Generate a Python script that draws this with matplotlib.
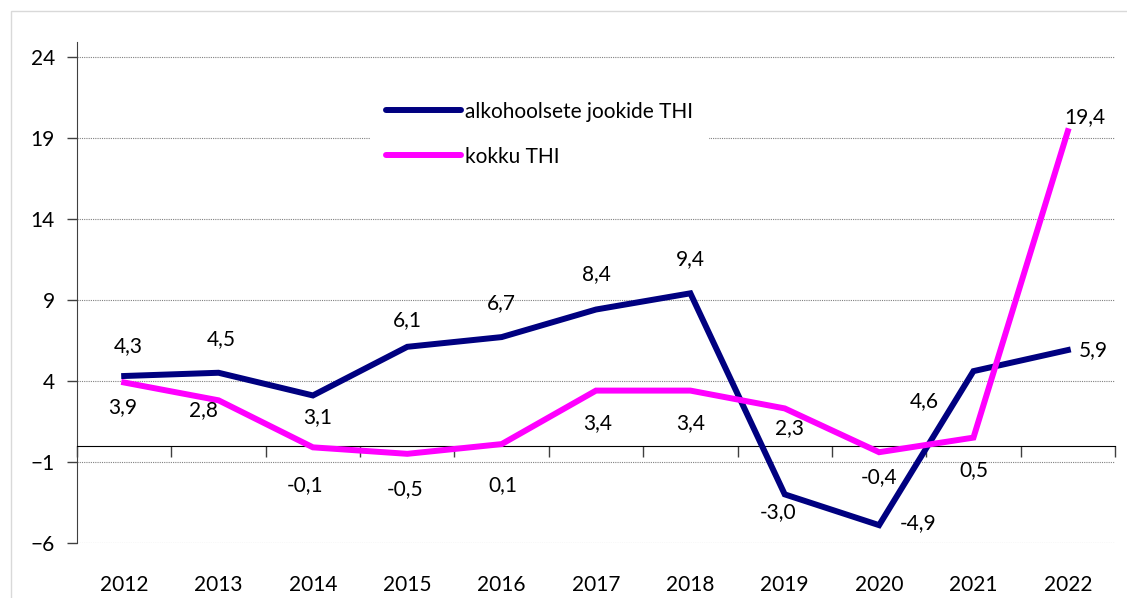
import matplotlib.pyplot as plt
from matplotlib.patches import Rectangle

# andmed
aastad = ['2012', '2013', '2014', '2015', '2016', '2017', '2018', '2019', '2020', '2021', '2022']
alko_thi = [4.3, 4.5, 3.1, 6.1, 6.7, 8.4, 9.4, -3.0, -4.9, 4.6, 5.9]
kokku_thi = [3.9, 2.8, -0.1, -0.5, 0.1, 3.4, 3.4, 2.3, -0.4, 0.5, 19.4]
y_ticks = [-6, -1, 4, 9, 14, 19, 24]

# siltide nihked pikslites
alko_nihked = [(4, 30), (3, 34), (5, -22), (0, 27), (0, 34), (0, 35), (0, 34),
               (-7, -18), (39, 2), (-49, -30), (25, 0)]
kokku_nihked = [(-2, -25), (-15, -10), (-8, -38), (-2, -35), (1, -41), (2, -33), (0, -33),
                (5, -20), (0, -25), (0, -32), (17, 14)]

plt.rcParams['font.family'] = ['Lato', 'DejaVu Sans']
fs = 15

fig = plt.figure(figsize=(11.27, 5.98), dpi=100)
ax = fig.add_axes([77 / 1127, 1 - 543 / 598, 1038 / 1127, (543 - 42) / 598])

# hall raam ümber
fig.patches.append(Rectangle((11 / 1127, -0.1), 1.2, 1 - 11 / 598 + 0.1, transform=fig.transFigure,
                             fill=False, edgecolor='#d9d9d9', linewidth=1))

x = list(range(len(aastad)))
ax.plot(x, alko_thi, color='#000080', linewidth=4.3, label='alkohoolsete jookide THI',
        solid_joinstyle='miter', zorder=3)
ax.plot(x, kokku_thi, color='#ff00ff', linewidth=4.3, label='kokku THI',
        solid_joinstyle='miter', zorder=3)

for i, v in enumerate(alko_thi):
    ax.annotate(f'{v:.1f}'.replace('.', ','), (x[i], v), xytext=alko_nihked[i],
                textcoords='offset pixels', ha='center', va='center', fontsize=fs)
for i, v in enumerate(kokku_thi):
    ax.annotate(f'{v:.1f}'.replace('.', ','), (x[i], v), xytext=kokku_nihked[i],
                textcoords='offset pixels', ha='center', va='center', fontsize=fs)

ax.set_xlim(-0.5, len(aastad) - 0.5)
ax.set_ylim(-6, 24.9)
ax.set_yticks(y_ticks)
ax.tick_params(axis='y', length=7, width=1, color='#404040', labelsize=fs, pad=9)
ax.grid(axis='y', linestyle=(0, (1, 1)), color='#808080', linewidth=0.8)
ax.set_axisbelow(True)

for s in ['top', 'right']:
    ax.spines[s].set_visible(False)
ax.spines['left'].set_color('#404040')
ax.spines['bottom'].set_position(('data', 0))
ax.spines['bottom'].set_color('#000000')
ax.spines['bottom'].set_bounds(-0.5, len(aastad) - 0.5)
ax.set_xticks([i - 0.5 for i in range(len(aastad) + 1)])
ax.set_xticklabels([])
ax.tick_params(axis='x', length=8, width=1, color='#404040')

sec = ax.secondary_xaxis(0)
sec.set_xticks(x)
sec.set_xticklabels(aastad)
sec.spines['bottom'].set_visible(False)
sec.tick_params(length=0, labelsize=fs, pad=23)

leg = ax.legend(loc='upper left', bbox_to_anchor=(0.272, 0.935), fontsize=fs, frameon=True,
                facecolor='white', edgecolor='none', framealpha=1, fancybox=False,
                handlelength=3.6, handletextpad=0.15, labelspacing=1.2, borderpad=0.8)
for line in leg.get_lines():
    line.set_solid_capstyle('round')

fig.savefig('out.png', dpi=100)
